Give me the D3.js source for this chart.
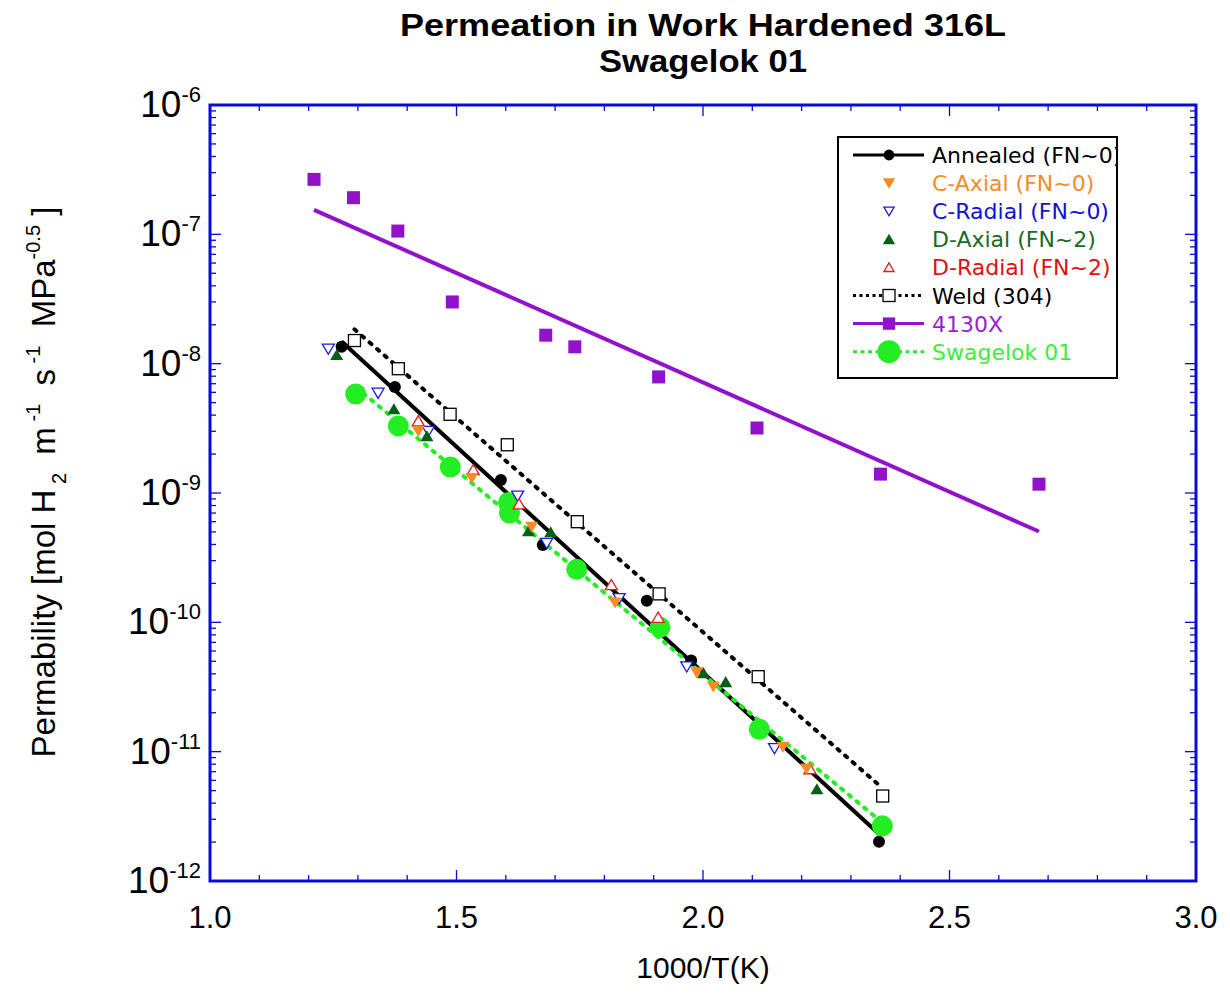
<!DOCTYPE html>
<html><head><meta charset="utf-8">
<script src="https://cdn.jsdelivr.net/npm/d3@7"></script>
<style>body{margin:0;background:#fff;} svg{display:block;}</style>
</head><body>
<svg id="chart" width="1230" height="998"></svg>
<script>
// ---- data (x = 1000/T(K), y = permeability) ----
const annealedX = [1.267, 1.375, 1.590, 1.675, 1.886, 1.976, 2.357];
const annealedY = [1.35e-8, 6.6e-9, 1.26e-9, 3.96e-10, 1.47e-10, 5.07e-11, 2.01e-12];
const cAxialX = [1.4225, 1.531, 1.6525, 1.8215, 1.987, 2.021, 2.162, 2.210];
const cAxialY = [3.01e-9, 1.30e-9, 5.46e-10, 1.42e-10, 4.09e-11, 3.18e-11, 1.09e-11, 7.4e-12];
const cRadialX = [1.240, 1.341, 1.443, 1.624, 1.683, 1.830, 1.967, 2.145];
const cRadialY = [1.30e-8, 5.93e-9, 3.01e-9, 9.48e-10, 4.10e-10, 1.53e-10, 4.54e-11, 1.06e-11];
const dAxialX = [1.257, 1.373, 1.440, 1.646, 1.691, 2.001, 2.046, 2.231];
const dAxialY = [1.17e-8, 4.46e-9, 2.76e-9, 5.08e-10, 4.99e-10, 4.06e-11, 3.46e-11, 5.14e-12];
const dRadialX = [1.4225, 1.534, 1.627, 1.814, 1.909, 2.217];
const dRadialY = [3.60e-9, 1.51e-9, 8.22e-10, 1.95e-10, 1.09e-10, 7.35e-12];
const weldX = [1.293, 1.382, 1.487, 1.603, 1.745, 1.911, 2.112, 2.3645];
const weldY = [1.51e-8, 9.14e-9, 4.06e-9, 2.36e-9, 6.0e-10, 1.66e-10, 3.80e-11, 4.54e-12];
const x4130X = [1.211, 1.291, 1.381, 1.4915, 1.681, 1.740, 1.910, 2.1095, 2.360, 2.6815];
const y4130X = [2.66e-7, 1.92e-7, 1.06e-7, 3.0e-8, 1.66e-8, 1.35e-8, 7.9e-9, 3.18e-9, 1.40e-9, 1.17e-9];
const swageX = [1.2955, 1.382, 1.4874, 1.6055, 1.6075, 1.7438, 1.9128, 2.1142, 2.3637];
const swageY = [5.83e-9, 3.30e-9, 1.59e-9, 8.44e-10, 7.0e-10, 2.57e-10, 9.15e-11, 1.49e-11, 2.67e-12];

const legendLabels = ["Annealed (FN~0)", "C-Axial (FN~0)", "C-Radial (FN~0)", "D-Axial (FN~2)",
  "D-Radial (FN~2)", "Weld (304)", "4130X", "Swagelok 01"];
const xTickLabels = ["1.0", "1.5", "2.0", "2.5", "3.0"];
const yTickExps = ["-6", "-7", "-8", "-9", "-10", "-11", "-12"];

// ---- layout ----
const L = 210, R = 1196, T = 105, B = 881;
const svg = d3.select("#chart");
const x = d3.scaleLinear().domain([1, 3]).range([L, R]);
const y = d3.scaleLog().domain([1e-12, 1e-6]).range([B, T]);
const frameColor = "#0a0ad8";

const colors = {
  annealed: "#000000", cAxial: "#fa8a28", cRadial: "#1a1ae0", dAxial: "#0b5e16",
  dRadial: "#e21a1a", weld: "#000000", p4130: "#9212cc", swage: "#22ee22"
};
const textColors = ["#000000", "#f68b2c", "#1010d8", "#1a6a22", "#e01010", "#000000", "#9a22d0", "#3aee3a"];

// ---- title ----
svg.append("text").attr("x", 703).attr("y", 36).attr("text-anchor", "middle")
  .attr("font-family", "Liberation Sans, Arial, sans-serif").attr("font-weight", "bold")
  .attr("font-size", 32).attr("textLength", 606).attr("lengthAdjust", "spacingAndGlyphs")
  .text("Permeation in Work Hardened 316L");
svg.append("text").attr("x", 703).attr("y", 72).attr("text-anchor", "middle")
  .attr("font-family", "Liberation Sans, Arial, sans-serif").attr("font-weight", "bold")
  .attr("font-size", 32).attr("textLength", 208).attr("lengthAdjust", "spacingAndGlyphs")
  .text("Swagelok 01");

// ---- ticks ----
const g = svg.append("g");
const xMinor = d3.range(1.0, 3.0001, 0.1);
xMinor.forEach(v => {
  const major = Math.abs(v * 2 - Math.round(v * 2)) < 1e-6;
  const len = major ? 11 : 6;
  g.append("line").attr("x1", x(v)).attr("x2", x(v)).attr("y1", B).attr("y2", B - len)
    .attr("stroke", frameColor).attr("stroke-width", 1.3);
  g.append("line").attr("x1", x(v)).attr("x2", x(v)).attr("y1", T).attr("y2", T + len)
    .attr("stroke", frameColor).attr("stroke-width", 1.3);
});
for (let e = -12; e < -6; e++) {
  for (let m = 1; m <= 9; m++) {
    const v = m * Math.pow(10, e);
    const len = m === 1 ? 11 : 6;
    g.append("line").attr("x1", L).attr("x2", L + len).attr("y1", y(v)).attr("y2", y(v))
      .attr("stroke", frameColor).attr("stroke-width", 1.3);
    g.append("line").attr("x1", R).attr("x2", R - len).attr("y1", y(v)).attr("y2", y(v))
      .attr("stroke", frameColor).attr("stroke-width", 1.3);
  }
}
svg.append("rect").attr("x", L).attr("y", T).attr("width", R - L).attr("height", B - T)
  .attr("fill", "none").attr("stroke", frameColor).attr("stroke-width", 3);

// x tick labels
xTickLabels.forEach(t => {
  svg.append("text").attr("x", x(+t)).attr("y", 928).attr("text-anchor", "middle")
    .attr("font-family", "Liberation Sans Narrow, Liberation Sans, Arial, sans-serif")
    .attr("font-size", 31).text(t);
});
// y tick labels
yTickExps.forEach(e => {
  const t = svg.append("text").attr("x", 201).attr("y", y(Math.pow(10, +e)) + 12)
    .attr("text-anchor", "end").attr("font-family", "Liberation Sans, Arial, sans-serif")
    .attr("font-size", 37);
  t.append("tspan").text("10");
  t.append("tspan").attr("dy", -15).attr("font-size", 22).text(e);
});
// axis titles
svg.append("text").attr("x", 703).attr("y", 978).attr("text-anchor", "middle")
  .attr("font-family", "Liberation Sans Narrow, Liberation Sans, Arial, sans-serif")
  .attr("font-size", 30).text("1000/T(K)");
const yl = svg.append("text").attr("transform", "translate(55,482) rotate(-90)")
  .attr("text-anchor", "middle").attr("font-family", "Liberation Sans, Arial, sans-serif")
  .attr("font-size", 33).attr("xml:space", "preserve").style("white-space", "pre");
yl.append("tspan").text("Permability [mol H");
yl.append("tspan").attr("dy", 11).attr("font-size", 20).text(" 2");
yl.append("tspan").attr("dy", -11).text("  m");
yl.append("tspan").attr("dy", -15).attr("font-size", 20).text(" -1");
yl.append("tspan").attr("dy", 15).text("  s");
yl.append("tspan").attr("dy", -15).attr("font-size", 20).text(" -1");
yl.append("tspan").attr("dy", 15).text("  MPa");
yl.append("tspan").attr("dy", -15).attr("font-size", 20).text("-0.5");
yl.append("tspan").attr("dy", 15).text(" ]");

// ---- fits ----
function fit(xs, ys) {
  const ly = ys.map(v => Math.log10(v));
  const mx = d3.mean(xs), my = d3.mean(ly);
  let sxy = 0, sxx = 0;
  xs.forEach((v, i) => { sxy += (v - mx) * (ly[i] - my); sxx += (v - mx) * (v - mx); });
  const b = sxy / sxx, a = my - b * mx;
  const x0 = d3.min(xs), x1 = d3.max(xs);
  return [[x0, Math.pow(10, a + b * x0)], [x1, Math.pow(10, a + b * x1)]];
}
const line = d3.line().x(d => x(d[0])).y(d => y(d[1]));
const plot = svg.append("g");
plot.append("path").attr("d", line(fit(x4130X, y4130X))).attr("fill", "none")
  .attr("stroke", colors.p4130).attr("stroke-width", 4);
plot.append("path").attr("d", line(fit(weldX, weldY))).attr("fill", "none")
  .attr("stroke", colors.weld).attr("stroke-width", 4).attr("stroke-linecap", "round")
  .attr("stroke-dasharray", "2.5,7.5");
plot.append("path").attr("d", line(fit(annealedX, annealedY))).attr("fill", "none")
  .attr("stroke", colors.annealed).attr("stroke-width", 4);
plot.append("path").attr("d", line(fit(swageX, swageY))).attr("fill", "none")
  .attr("stroke", colors.swage).attr("stroke-width", 4).attr("stroke-linecap", "round")
  .attr("stroke-dasharray", "2.5,7.5");

// ---- markers ----
function triDown(s) { return `M${-s},${-s * 0.8}L${s},${-s * 0.8}L0,${s * 0.9}Z`; }
function triUp(s) { return `M${-s},${s * 0.8}L${s},${s * 0.8}L0,${-s * 0.9}Z`; }
function drawMarker(sel, type, cx, cy, big) {
  const k = big || 1;
  switch (type) {
    case "annealed": sel.append("circle").attr("cx", cx).attr("cy", cy).attr("r", 6 * k).attr("fill", colors.annealed); break;
    case "cAxial": sel.append("path").attr("transform", `translate(${cx},${cy})`).attr("d", triDown(6.5 * k)).attr("fill", colors.cAxial); break;
    case "cRadial": sel.append("path").attr("transform", `translate(${cx},${cy})`).attr("d", triDown(6 * k)).attr("fill", "#fff").attr("stroke", colors.cRadial).attr("stroke-width", 1.3); break;
    case "dAxial": sel.append("path").attr("transform", `translate(${cx},${cy})`).attr("d", triUp(6.5 * k)).attr("fill", colors.dAxial); break;
    case "dRadial": sel.append("path").attr("transform", `translate(${cx},${cy})`).attr("d", triUp(6 * k)).attr("fill", "#fff").attr("stroke", colors.dRadial).attr("stroke-width", 1.3); break;
    case "weld": sel.append("rect").attr("x", cx - 6 * k).attr("y", cy - 6 * k).attr("width", 12 * k).attr("height", 12 * k).attr("fill", "#fff").attr("stroke", "#000").attr("stroke-width", 1.3); break;
    case "p4130": sel.append("rect").attr("x", cx - 6.5 * k).attr("y", cy - 6.5 * k).attr("width", 13 * k).attr("height", 13 * k).attr("fill", colors.p4130); break;
    case "swage": sel.append("circle").attr("cx", cx).attr("cy", cy).attr("r", 10.5 * k).attr("fill", colors.swage); break;
  }
}
const series = [
  ["p4130", x4130X, y4130X], ["weld", weldX, weldY], ["annealed", annealedX, annealedY],
  ["swage", swageX, swageY], ["cRadial", cRadialX, cRadialY], ["dAxial", dAxialX, dAxialY],
  ["dRadial", dRadialX, dRadialY], ["cAxial", cAxialX, cAxialY]
];
series.forEach(([type, xs, ys]) => {
  const gg = plot.append("g");
  xs.forEach((v, i) => drawMarker(gg, type, x(v), y(ys[i])));
});

// ---- legend ----
const lg = svg.append("g");
svg.append("defs").append("clipPath").attr("id", "legclip").append("rect")
  .attr("x", 838).attr("y", 137).attr("width", 279).attr("height", 241);
lg.append("rect").attr("x", 838).attr("y", 137).attr("width", 279).attr("height", 241)
  .attr("fill", "#fff");
const legTypes = ["annealed", "cAxial", "cRadial", "dAxial", "dRadial", "weld", "p4130", "swage"];
const legLine = {annealed: ["#000", null], weld: ["#000", "3,3.5"], p4130: [colors.p4130, null], swage: [colors.swage, "4,3.5"]};
const lgText = lg.append("g").attr("clip-path", "url(#legclip)");
legTypes.forEach((t, i) => {
  const cy = 155 + i * 28.1;
  if (legLine[t]) {
    const ln = lg.append("line").attr("x1", 853).attr("x2", 924).attr("y1", cy).attr("y2", cy)
      .attr("stroke", legLine[t][0]).attr("stroke-width", 3);
    if (legLine[t][1]) ln.attr("stroke-dasharray", legLine[t][1]);
  }
  const big = t === "annealed" ? 0.9 : (t === "cRadial" || t === "dRadial" ? 0.85 : (t === "weld" ? 1 : (t === "swage" ? 1.1 : 0.95)));
  drawMarker(lg, t, 889, cy, big);
  lgText.append("text").attr("x", 932).attr("y", cy + 8).attr("fill", textColors[i])
    .attr("font-family", "DejaVu Sans, sans-serif").attr("font-size", 22).text(legendLabels[i]);
});
lg.append("rect").attr("x", 838).attr("y", 137).attr("width", 279).attr("height", 241)
  .attr("fill", "none").attr("stroke", "#000").attr("stroke-width", 2);
</script>
</body></html>
